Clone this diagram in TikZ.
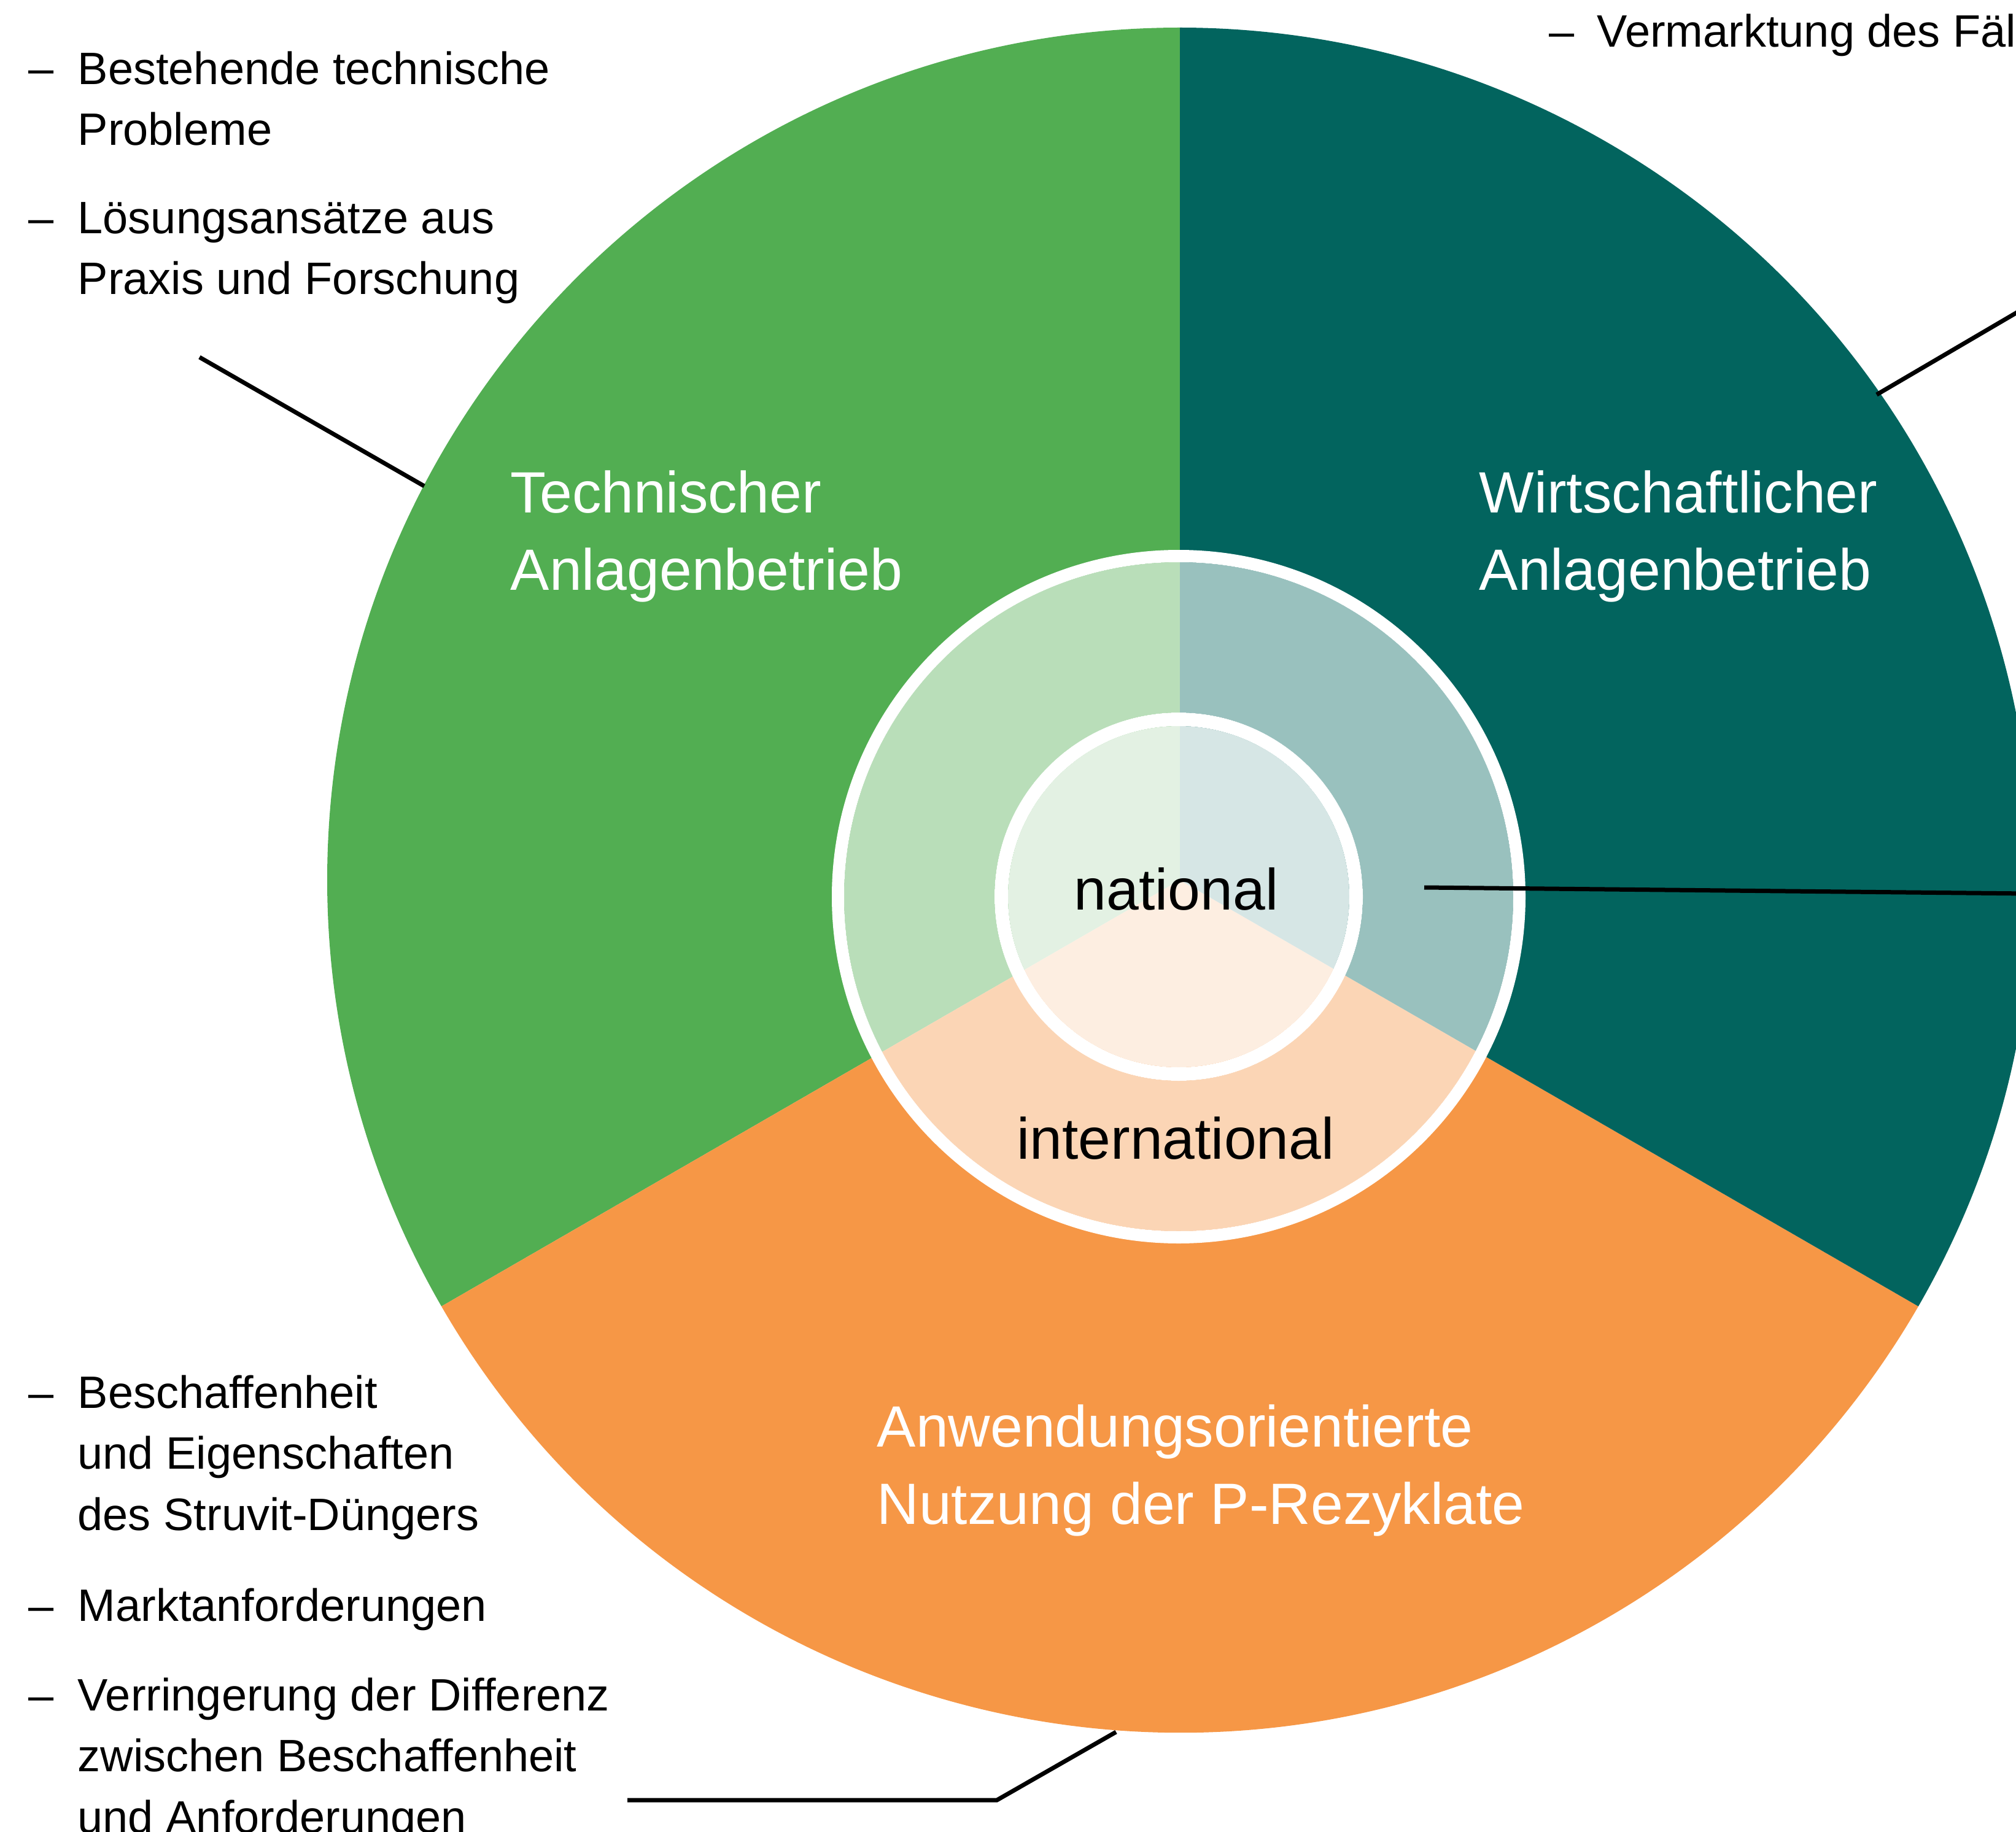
\documentclass[tikz,border=0pt]{standalone}
\usepackage{fontspec}
\setmainfont{Liberation Sans}

\definecolor{techgreen}{RGB}{82,174,82}
\definecolor{wirtteal}{RGB}{2,100,94}
\definecolor{anworange}{RGB}{246,151,70}

\newcommand{\bulletfont}{\fontsize{21.05}{28.3}\selectfont}
\newcommand{\sectorfont}{\fontsize{27}{35.6}\selectfont}

% multi-line nodes: the base anchor sits on the last line
\tikzset{
	sectorlabel/.style={anchor=base west, align=left, inner sep=0pt, text=white, font=\sectorfont},
	ringlabel/.style={anchor=base, inner sep=0pt, font=\sectorfont},
	bullettext/.style={anchor=base west, align=left, inner sep=0pt, font=\bulletfont},
	bulletdash/.style={anchor=base west, inner sep=0pt, font=\bulletfont},
	leader/.style={line width=0.07cm, color=black},
	whitering/.style={draw=white, line width=#1},
}

\begin{document}
\begin{tikzpicture}
		%%%%% START %%%%%
		\useasboundingbox (0, 0) rectangle (32.84, -29.85);
		
		\coordinate (O) at (19.22, -14.34);
		\coordinate (C) at (19.20, -14.61);
		
		% three sectors
		\fill[techgreen] (O) -- ++(90:13.89) arc[start angle=90, end angle=210, radius=13.89] -- cycle;
		\fill[anworange] (O) -- ++(210:13.89) arc[start angle=210, end angle=330, radius=13.89] -- cycle;
		\fill[wirtteal] (O) -- ++(330:13.89) arc[start angle=330, end angle=450, radius=13.89] -- cycle;
		
		% rings
		\fill[white, opacity=0.6, even odd rule] (C) circle (5.45) (C) circle (3.0);
		\fill[white, opacity=0.84] (C) circle (2.78);
		\draw[whitering=0.2cm] (C) circle (5.55);
		\draw[whitering=0.22cm] (C) circle (2.89);
		
		\node[sectorlabel] (tech) at (8.31, -9.61) {Technischer\\Anlagenbetrieb};
		\node[sectorlabel] (wirt) at (24.09, -9.61) {Wirtschaftlicher\\Anlagenbetrieb};
		\node[sectorlabel] (anw) at (14.28, -24.83) {Anwendungsorientierte\\Nutzung der P-Rezyklate};
		
		\node[ringlabel] (national) at (19.16, -14.82) {national};
		\node[ringlabel] (international) at (19.15, -18.88) {international};
		
		% bullet lists
		\node[bulletdash] (dash1) at (0.46, -1.37) {\textendash};
		\node[bullettext] (probleme) at (1.26, -2.37) {Bestehende technische\\Probleme};
		\node[bulletdash] (dash2) at (0.46, -3.81) {\textendash};
		\node[bullettext] (loesung) at (1.26, -4.80) {Lösungsansätze aus\\Praxis und Forschung};
		
		\node[bulletdash] (dash3) at (25.23, -0.77) {\textendash};
		\node[bullettext] (vermarktung) at (26.01, -0.77) {Vermarktung des Fäl};
		
		\node[bulletdash] (dash4) at (0.46, -22.94) {\textendash};
		\node[bullettext] (beschaffenheit) at (1.26, -24.93) {Beschaffenheit\\und Eigenschaften\\des Struvit-Düngers};
		\node[bulletdash] (dash5) at (0.46, -26.41) {\textendash};
		\node[bullettext] (markt) at (1.26, -26.41) {Marktanforderungen};
		\node[bulletdash] (dash6) at (0.46, -27.87) {\textendash};
		\node[bullettext] (differenz) at (1.26, -29.86) {Verringerung der Differenz\\zwischen Beschaffenheit\\und Anforderungen};
		
		% leaders
		\coordinate (techA) at (3.25, -5.82);
		\coordinate (techB) at (6.91, -7.92);
		\draw[leader] (techA) -- (techB);
		
		\coordinate (wirtA) at (30.57, -6.43);
		\coordinate (wirtB) at (34.0, -4.42);
		\draw[leader] (wirtA) -- (wirtB);
		
		\coordinate (ringA) at (23.20, -14.46);
		\coordinate (ringB) at (34.0, -14.57);
		\draw[leader] (ringA) -- (ringB);
		
		\coordinate (anwA) at (10.22, -29.33);
		\coordinate (anwK) at (16.24, -29.33);
		\coordinate (anwB) at (18.18, -28.22);
		\draw[leader] (anwA) -- (anwK) -- (anwB);
		
		%%%%% END %%%%%
\end{tikzpicture}
\end{document}
